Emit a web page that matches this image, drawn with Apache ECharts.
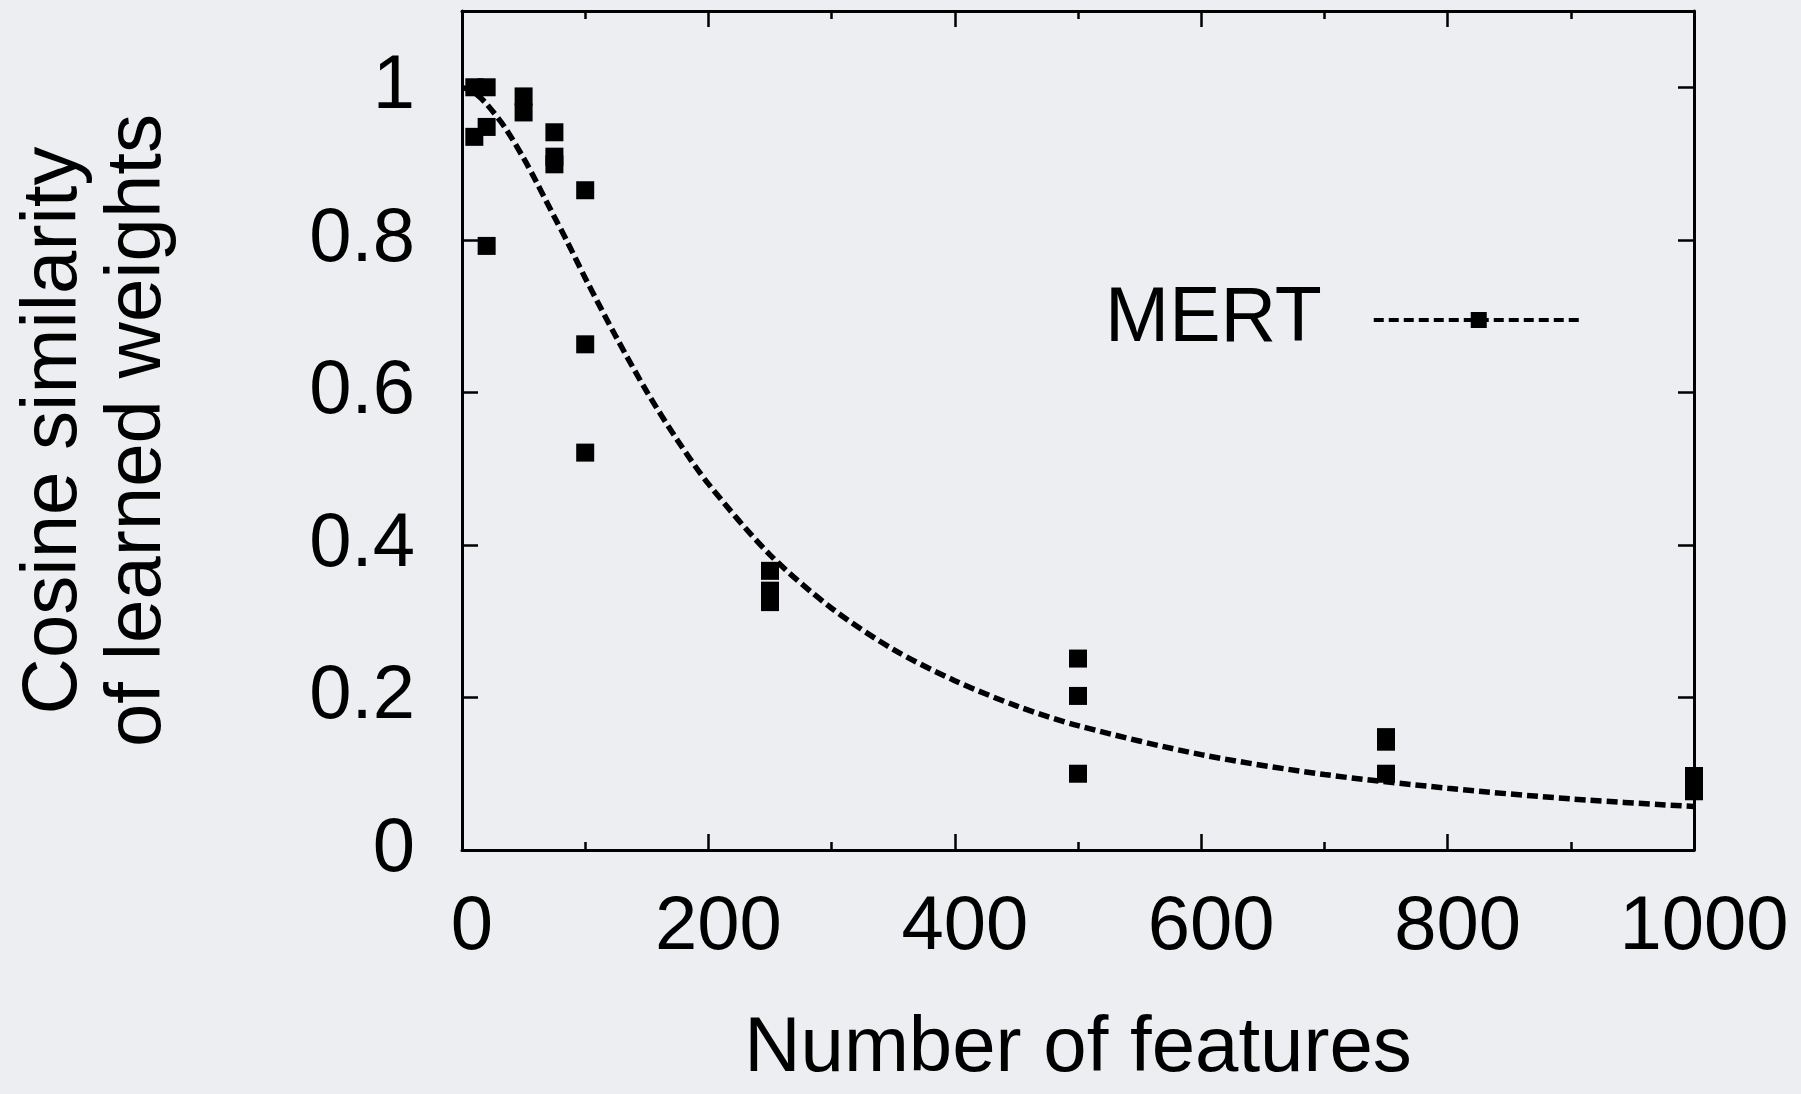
<!DOCTYPE html>
<html>
<head>
<meta charset="utf-8">
<script src="https://cdn.jsdelivr.net/npm/echarts@6/dist/echarts.min.js"></script>
<style>
html,body{margin:0;padding:0;background:#eceef1;}
#chart{width:1801px;height:1094px;}
</style>
</head>
<body>
<div id="chart"></div>
<script>
// Scatter observations (number of features, cosine similarity)
const pointX = [10, 20, 50, 50, 20, 10, 75, 75, 75, 100, 20, 100, 100, 250, 250, 250, 500, 500, 500, 750, 750, 750, 1000, 1000];
const pointY = [1.0, 1.0, 0.988, 0.967, 0.948, 0.935, 0.941, 0.909, 0.899, 0.865, 0.792, 0.663, 0.521, 0.366, 0.34, 0.325, 0.251, 0.202, 0.1, 0.148, 0.142, 0.1, 0.097, 0.077];
// Fitted curve
const curveX = [0, 10, 20, 35, 50, 60, 75, 85, 100, 125, 150, 175, 200, 250, 300, 350, 400, 450, 500, 600, 700, 800, 900, 1000];
const curveY = [1.0, 0.993, 0.978, 0.947, 0.907, 0.877, 0.83, 0.799, 0.75, 0.673, 0.601, 0.537, 0.48, 0.387, 0.317, 0.263, 0.222, 0.189, 0.163, 0.125, 0.099, 0.081, 0.067, 0.057];
const seriesName = 'MERT';
const xTitle = 'Number of features';
const yTitle = 'Cosine similarity\nof learned weights';

const FONT = '"Liberation Sans", Arial, Helvetica, sans-serif';
const chart = echarts.init(document.getElementById('chart'));

const axisLine = { show: true, onZero: false, lineStyle: { color: '#000', width: 3 } };
const tick = { show: true, inside: true, length: 16, lineStyle: { color: '#000', width: 2.5 } };
const minor = { show: true, splitNumber: 2, length: 8, lineStyle: { color: '#000', width: 2.5 } };

chart.setOption({
  animation: false,
  backgroundColor: '#eceef1',
  grid: { left: 462, right: 107, top: 11, bottom: 235, show: false },
  legend: {
    data: [seriesName],
    left: 1105,
    top: 280,
    padding: 0,
    align: 'right',
    itemWidth: 210,
    itemHeight: 20,
    textStyle: { fontFamily: FONT, fontSize: 77, color: '#000', lineHeight: 80, padding: [0, 47, 0, 0] },
    lineStyle: { width: 4, type: [10, 5], color: '#000' },
    itemStyle: { color: '#000' }
  },
  xAxis: [{
    type: 'value', min: 0, max: 1000, interval: 200, position: 'bottom',
    axisLine: axisLine, axisTick: tick, minorTick: minor, splitLine: { show: false },
    axisLabel: { fontFamily: FONT, fontSize: 76, color: '#000', margin: 38, lineHeight: 80, padding: [0, 0, 0, 20],
      formatter: function (v) { return String(v); } },
    name: xTitle, nameLocation: 'middle', nameGap: 159,
    nameTextStyle: { fontFamily: FONT, fontSize: 78, color: '#000', lineHeight: 80 }
  }, {
    type: 'value', min: 0, max: 1000, interval: 200, position: 'top',
    axisLine: axisLine, axisTick: tick, minorTick: minor, splitLine: { show: false },
    axisLabel: { show: false }
  }],
  yAxis: [{
    type: 'value', min: 0, max: 1.1, interval: 0.2, position: 'left',
    axisLine: axisLine, axisTick: tick, splitLine: { show: false },
    axisLabel: {
      fontFamily: FONT, fontSize: 76, color: '#000', margin: 47, showMaxLabel: false,
      formatter: function (v) { return v > 1.0001 ? '' : String(Math.round(v * 10) / 10); }
    },
    name: yTitle, nameLocation: 'middle', nameRotate: 90, nameGap: 282,
    nameTextStyle: { fontFamily: FONT, fontSize: 78, color: '#000', lineHeight: 84, align: 'center' }
  }, {
    type: 'value', min: 0, max: 1.1, interval: 0.2, position: 'right',
    axisLine: axisLine, axisTick: tick, splitLine: { show: false },
    axisLabel: { show: false }
  }],
  series: [{
    name: seriesName,
    type: 'line',
    smooth: 0.3,
    symbol: 'rect',
    showSymbol: false,
    symbolSize: 17,
    itemStyle: { color: '#000' },
    lineStyle: { color: '#000', width: 5.5, type: [11, 5] },
    data: curveX.map((x, i) => [x, curveY[i]]),
    z: 3
  }, {
    name: seriesName + ' points',
    type: 'scatter',
    symbol: 'rect',
    symbolSize: 18,
    itemStyle: { color: '#000', opacity: 1 },
    data: pointX.map((x, i) => [x, pointY[i]]),
    z: 4
  }]
});
</script>
</body>
</html>
